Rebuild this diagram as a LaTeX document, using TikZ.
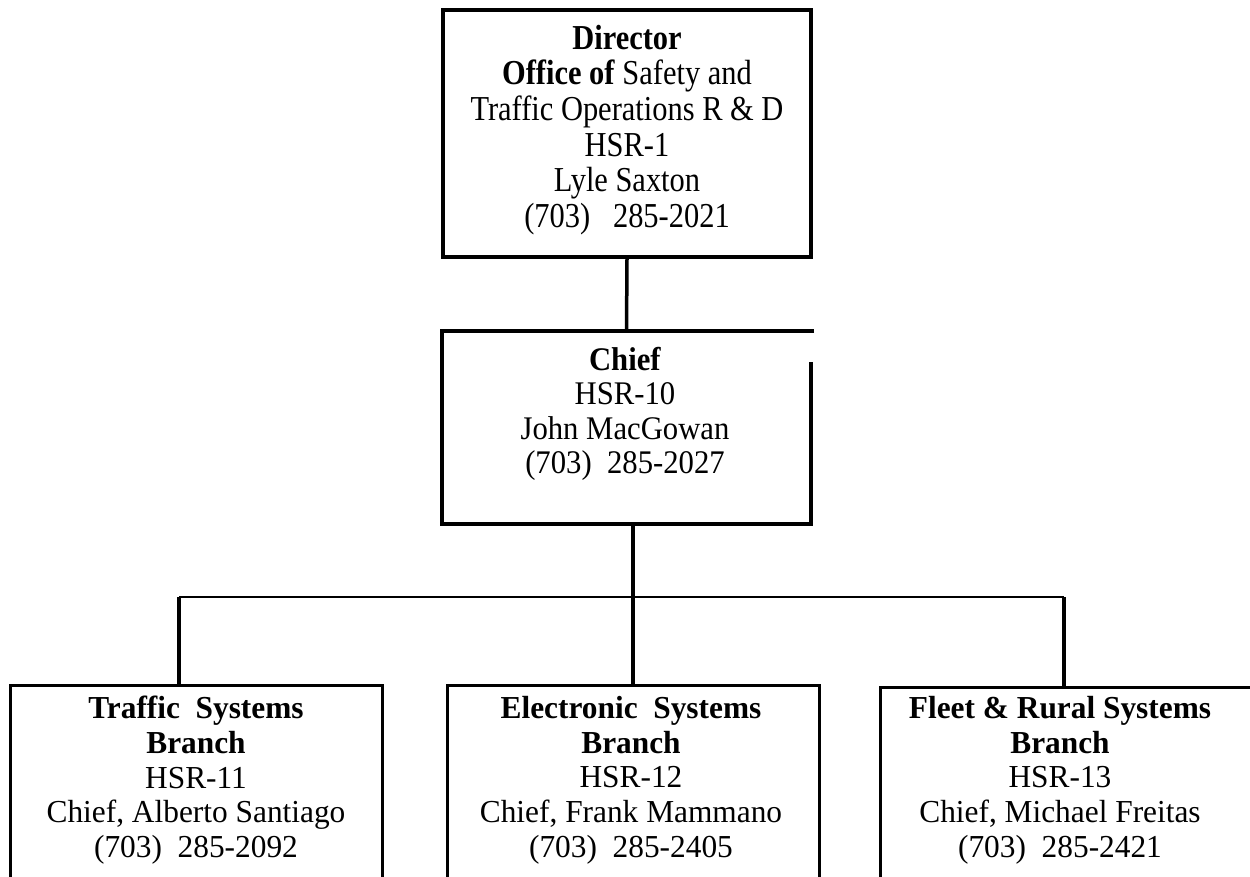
\documentclass[tikz,border=0pt]{standalone}
\usepackage{fontspec}
\setmainfont{Liberation Serif}
\newfontfamily\topfont[FakeStretch=0.87]{Liberation Serif}
\newfontfamily\chieffont[FakeStretch=0.93]{Liberation Serif}
\newfontfamily\branchfont[FakeStretch=0.98]{Liberation Serif}
\begin{document}
\begin{tikzpicture}[x=1pt,y=-1pt,
  boxframe/.style={draw, line width=3.5pt, rectangle, inner sep=0pt},
  noframe/.style={draw=none, rectangle, inner sep=0pt},
  txt/.style={inner sep=0pt, align=center, anchor=north},
  toptxt/.style={txt, font=\topfont\fontsize{35}{35.6}\selectfont},
  chieftxt/.style={txt, font=\chieffont\fontsize{33}{34.5}\selectfont},
  branchtxt/.style={txt, font=\branchfont\fontsize{32}{34.75}\selectfont},
  conn/.style={line width=3.5pt},
  busline/.style={line width=2.5pt}]
\useasboundingbox (0,0) rectangle (1250,877);
\clip (0,0) rectangle (1250,877);
% boxes
\node[boxframe, minimum width=368pt, minimum height=247pt] (dir) at (627,133.5) {};
\node[noframe, minimum width=369pt, minimum height=193pt] (chief) at (626.5,427.5) {};
\draw[line width=3.5pt] ([xshift=3pt]chief.north east) -- (chief.north west) -- (chief.south west) -- (chief.south east) -- ([yshift=-31pt]chief.north east);
\node[boxframe, line width=3pt, minimum width=372pt, minimum height=235pt] (left) at (196,802.5) {};
\node[boxframe, line width=3pt, minimum width=372pt, minimum height=235pt] (mid) at (633,802.5) {};
\node[boxframe, line width=3pt, minimum width=372pt, minimum height=231pt] (right) at (1066,802.5) {};
% texts
\node[toptxt] (dirt) at (627,24.8) {\textbf{Director}\\\textbf{Office of} Safety\ and\\Traffic Operations R \& D\\HSR-1\\Lyle Saxton\\(703)\ \ \ 285-2021};
\node[chieftxt] (chieft) at (625,347) {\textbf{Chief}\\HSR-10\\John MacGowan\\(703)\ \ 285-2027};
\node[branchtxt] (leftt) at (196,696) {\textbf{Traffic\ \ Systems}\\\textbf{Branch}\\HSR-11\\Chief, Alberto Santiago\\(703)\ \ 285-2092};
\node[branchtxt] (midt) at (631,696) {\textbf{Electronic\ \ Systems}\\\textbf{Branch}\\HSR-12\\Chief, Frank Mammano\\(703)\ \ 285-2405};
\node[branchtxt] (rightt) at (1060,696) {\textbf{Fleet \& Rural Systems}\\\textbf{Branch}\\HSR-13\\Chief, Michael Freitas\\(703)\ \ 285-2421};
% connectors
\coordinate (bl) at (179,597);
\coordinate (br) at (1064,597);
\draw[conn] (dir.south) -- (chief.north);
\draw[busline] (bl) -- (br);
\draw[conn] (chief.south -| mid.north) -- (mid.north);
\draw[conn] (bl) -- (bl |- left.north);
\draw[conn] (br) -- (br |- right.north);
\end{tikzpicture}
\end{document}
